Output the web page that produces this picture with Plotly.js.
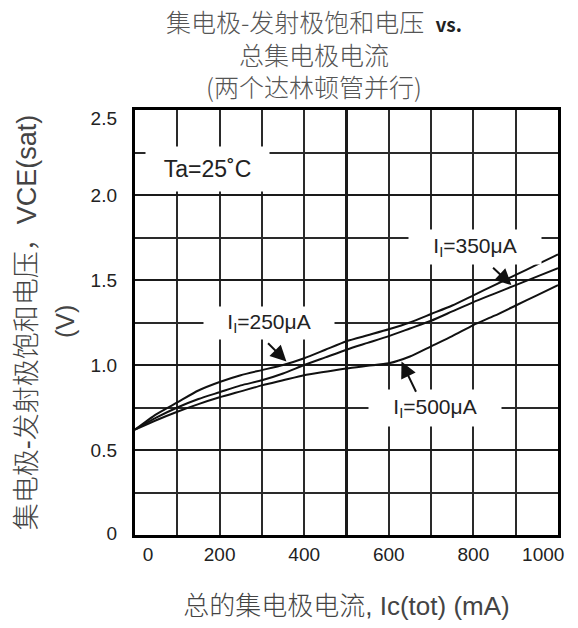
<!DOCTYPE html>
<html>
<head>
<meta charset="utf-8">
<script src="https://cdn.plot.ly/plotly-3.0.1.min.js"></script>
<style>html,body{margin:0;padding:0;background:#fff;}#chart{width:578px;height:628px;}</style>
</head>
<body>
<div id="chart"></div>
<script>
// ---- data ----
const collectorCurrent = [0, 50, 100, 150, 200, 250, 300, 350, 400, 450, 500, 550, 600, 650, 700, 750, 800, 850, 900, 950, 1000];
const vce250 = [0.62, 0.71, 0.78, 0.85, 0.90, 0.94, 0.97, 1.00, 1.04, 1.09, 1.14, 1.175, 1.21, 1.25, 1.30, 1.35, 1.41, 1.47, 1.53, 1.59, 1.65];
const vce350 = [0.62, 0.69, 0.75, 0.80, 0.84, 0.88, 0.91, 0.95, 1.00, 1.045, 1.09, 1.13, 1.17, 1.215, 1.26, 1.315, 1.37, 1.42, 1.47, 1.52, 1.57];
const vce500 = [0.62, 0.675, 0.725, 0.77, 0.81, 0.845, 0.88, 0.91, 0.94, 0.96, 0.98, 0.995, 1.01, 1.05, 1.11, 1.17, 1.235, 1.29, 1.35, 1.41, 1.47];
const seriesLabels = ['I<sub>I</sub>=250μA', 'I<sub>I</sub>=350μA', 'I<sub>I</sub>=500μA'];

// tick labels (the reference pulls the end labels inside the frame)
const xTickText = ['0', '200', '400', '600', '800', '1000'];
const xTickPos  = [31, 200, 400, 600, 800, 965];
const yTickText = ['0', '0.5', '1.0', '1.5', '2.0', '2.5'];
const yTickPos  = [0.012, 0.5, 1.0, 1.5, 2.0, 2.45];

// label boxes: [x, y] centre of white box, and arrow head / tail
const labelBoxPos = [[317, 1.25], [804, 1.697], [709, 0.747]];
const labelBoxSize = [[128, 30], [130, 32], [130, 34]];
const arrowHead = [[358, 1.02], [890, 1.47], [630, 1.02]];
const arrowTail = [[311, 1.137], [843, 1.58], [666, 0.834]];

const LAT = 'Liberation Sans, Arial, sans-serif';
const CJK = '"Noto Sans CJK SC", sans-serif';
const MIX = 'Liberation Sans, "Noto Sans CJK SC", sans-serif';

const curveLine = {color: '#111', width: 2, shape: 'spline', smoothing: 0.6};
const traces = [vce250, vce350, vce500].map((v, i) => ({
  x: collectorCurrent, y: v, type: 'scatter', mode: 'lines',
  name: seriesLabels[i], line: curveLine, showlegend: false, hoverinfo: 'skip'
}));
traces.push({x: [], y: [], xaxis: 'x2', yaxis: 'y2', type: 'scatter', mode: 'lines', showlegend: false, hoverinfo: 'skip'});

const annotations = [];
// Ta label
annotations.push({
  text: 'Ta=25˚C', xref: 'x', yref: 'y', x: 171, y: 2.153, showarrow: false,
  width: 121, height: 42, bgcolor: '#fff',
  font: {family: LAT, size: 23, color: '#222'}
});
seriesLabels.forEach((t, i) => {
  annotations.push({
    text: t, xref: 'x', yref: 'y', x: labelBoxPos[i][0], y: labelBoxPos[i][1], showarrow: false,
    width: labelBoxSize[i][0], height: labelBoxSize[i][1], bgcolor: '#fff',
    font: {family: LAT, size: 21, color: '#222'}
  });
});
arrowHead.forEach((h, i) => {
  annotations.push({
    text: '', xref: 'x', yref: 'y', axref: 'x', ayref: 'y',
    x: h[0], y: h[1], ax: arrowTail[i][0], ay: arrowTail[i][1],
    showarrow: true, arrowhead: 2, arrowsize: 1.6, arrowwidth: 2, arrowcolor: '#111', standoff: 0
  });
});
// "(V)" second line of y title
annotations.push({
  text: '(V)', xref: 'paper', yref: 'paper', x: (65 - 135) / 423, y: (535 - 322) / 425,
  textangle: -90, showarrow: false, xanchor: 'center', yanchor: 'middle',
  font: {family: LAT, size: 25, color: '#444'}
});

const layout = {
  width: 578, height: 628,
  margin: {l: 135, r: 20, t: 110, b: 93},
  paper_bgcolor: '#fff', plot_bgcolor: '#fff',
  title: {
    text: '集电极-发射极饱和电压  <b><span style="font-size:19px;color:#222">vs.</span></b><br>总集电极电流<br>(两个达林顿管并行)',
    font: {family: CJK, size: 25, color: '#555', weight: 300},
    x: 314 / 578, xanchor: 'center', xref: 'container',
    y: 1 - 32 / 628, yanchor: 'top', yref: 'container'
  },
  xaxis: {
    range: [0, 1000], tick0: 0, dtick: 500, showticklabels: false, ticks: '',
    showgrid: true, gridcolor: '#1a1a1a', gridwidth: 3.2,
    minor: {tick0: 0, dtick: 100, showgrid: true, gridcolor: '#2a2a2a', gridwidth: 2},
    zeroline: false, showline: true, mirror: true, linecolor: '#000', linewidth: 3
  },
  yaxis: {
    range: [0, 2.5], tick0: 0, dtick: 0.5, showticklabels: false, ticks: '',
    showgrid: true, gridcolor: '#1a1a1a', gridwidth: 2.8,
    minor: {tick0: 0, dtick: 0.25, showgrid: true, gridcolor: '#2a2a2a', gridwidth: 2},
    zeroline: false, showline: true, mirror: true, linecolor: '#000', linewidth: 3
  },
  xaxis2: {
    overlaying: 'x', anchor: 'y', side: 'bottom', range: [0, 1000],
    tickmode: 'array', tickvals: xTickPos, ticktext: xTickText, ticks: '',
    showgrid: false, zeroline: false, showline: false,
    tickfont: {family: LAT, size: 19, color: '#222'}, ticklabelstandoff: 6,
    title: {text: '总的集电极电流, Ic(tot) (mA)', font: {family: MIX, size: 26, color: '#444', weight: 300}, standoff: 32}
  },
  yaxis2: {
    overlaying: 'y', anchor: 'x', side: 'left', range: [0, 2.5],
    tickmode: 'array', tickvals: yTickPos, ticktext: yTickText, ticks: '',
    showgrid: false, zeroline: false, showline: false,
    tickfont: {family: LAT, size: 19, color: '#222'}, ticklabelstandoff: 17,
    title: {text: '集电极-发射极饱和电压，VCE(sat)', font: {family: MIX, size: 27, color: '#444', weight: 300}, standoff: 46}
  },
  annotations: annotations,
  showlegend: false
};

Plotly.newPlot('chart', traces, layout, {staticPlot: true, displayModeBar: false});
</script>
</body>
</html>
